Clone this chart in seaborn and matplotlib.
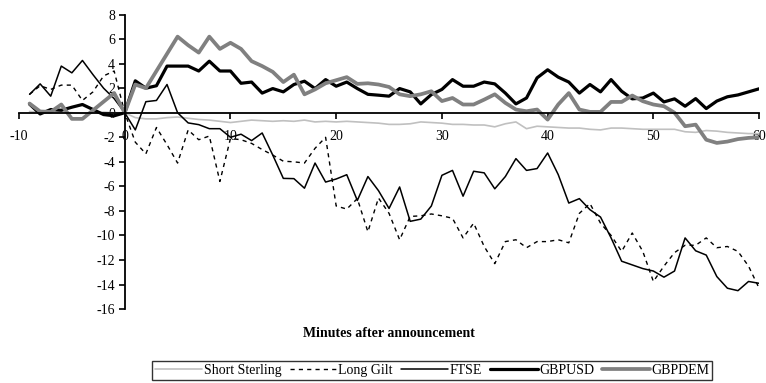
import matplotlib
matplotlib.use("Agg")
import matplotlib.pyplot as plt
import seaborn as sns
import pandas as pd

# Minutes relative to the announcement
minutes = list(range(-9, 61))

short_sterling = [
    0.1, 0.05, 0.0, 0.05, 0.0, -0.05, 0.0, 0.05, 0.0, 0.0,
    -0.4, -0.5, -0.5, -0.4, -0.35, -0.45, -0.55, -0.6, -0.7, -0.8,
    -0.7, -0.6, -0.65, -0.7, -0.65, -0.7, -0.6, -0.75, -0.7, -0.75,
    -0.7, -0.75, -0.8, -0.85, -0.95, -0.95, -0.9, -0.75, -0.8, -0.85,
    -0.95, -0.95, -1.0, -1.0, -1.15, -0.9, -0.75, -1.3, -1.1, -1.15,
    -1.2, -1.25, -1.25, -1.35, -1.4, -1.25, -1.25, -1.3, -1.35, -1.35,
    -1.35, -1.35, -1.55, -1.6, -1.45, -1.5, -1.6, -1.65, -1.7, -1.7,
]

long_gilt = [
    1.5, 2.2, 1.9, 2.25, 2.25, 1.0, 1.7, 3.0, 3.4, 0.0,
    -2.4, -3.35, -1.2, -2.6, -4.1, -1.4, -2.2, -1.9, -5.6, -2.1,
    -2.2, -2.5, -3.0, -3.45, -3.95, -4.0, -4.1, -2.9, -2.0, -7.6,
    -7.85, -7.0, -9.7, -6.95, -8.2, -10.35, -8.45, -8.4, -8.25, -8.4,
    -8.6, -10.2, -9.0, -10.9, -12.3, -10.5, -10.35, -11.0, -10.5, -10.5,
    -10.35, -10.6, -8.2, -7.4, -9.0, -10.0, -11.3, -9.8, -11.3, -13.75,
    -12.5, -11.4, -10.8, -10.8, -10.2, -11.0, -10.9, -11.3, -12.5, -14.3,
]

ftse = [
    1.5, 2.35, 1.35, 3.8, 3.25, 4.26, 3.1, 2.0, 1.15, 0.0,
    -1.4, 0.9, 1.0, 2.3, 0.0, -0.83, -0.97, -1.3, -1.3, -2.0,
    -1.75, -2.27, -1.65, -3.45, -5.35, -5.37, -6.15, -4.1, -5.65, -5.4,
    -5.05, -7.15, -5.2, -6.35, -7.8, -6.05, -8.85, -8.67, -7.6, -5.1,
    -4.7, -6.8, -4.77, -4.9, -6.2, -5.2, -3.74, -4.7, -4.55, -3.28,
    -5.04, -7.36, -7.0, -7.9, -8.5, -10.2, -12.1, -12.4, -12.7, -12.9,
    -13.4, -12.9, -10.2, -11.25, -11.6, -13.35, -14.3, -14.5, -13.75, -13.9,
]

gbpusd = [
    0.7, -0.1, 0.26, 0.2, 0.45, 0.67, 0.26, -0.15, -0.25, 0.0,
    2.6, 2.0, 2.2, 3.8, 3.8, 3.8, 3.4, 4.2, 3.4, 3.4,
    2.4, 2.5, 1.6, 1.97, 1.7, 2.3, 2.57, 1.97, 2.7, 2.16,
    2.5, 1.97, 1.5, 1.43, 1.35, 1.97, 1.7, 0.72, 1.48, 1.9,
    2.7, 2.16, 2.16, 2.5, 2.35, 1.6, 0.72, 1.2, 2.84, 3.5,
    2.9, 2.5, 1.6, 2.3, 1.7, 2.7, 1.75, 1.13, 1.2, 1.6,
    0.88, 1.13, 0.53, 1.15, 0.34, 0.95, 1.3, 1.45, 1.7, 1.95,
]

gbpdem = [
    0.75, 0.1, 0.07, 0.67, -0.5, -0.5, 0.2, 0.9, 1.6, 0.0,
    2.3, 2.0, 3.4, 4.8, 6.2, 5.5, 4.9, 6.2, 5.2, 5.7,
    5.2, 4.2, 3.8, 3.33, 2.5, 3.1, 1.5, 1.9, 2.4, 2.65,
    2.9, 2.35, 2.4, 2.3, 2.1, 1.5, 1.35, 1.5, 1.75, 0.95,
    1.2, 0.67, 0.67, 1.07, 1.5, 0.8, 0.26, 0.12, 0.26, -0.56,
    0.67, 1.6, 0.26, 0.07, 0.07, 0.88, 0.88, 1.4, 0.94, 0.67,
    0.53, 0.0, -1.1, -0.97, -2.2, -2.46, -2.35, -2.15, -2.05, -2.0,
]

series_names = ["Short Sterling", "Long Gilt", "FTSE", "GBPUSD", "GBPDEM"]
series_values = [short_sterling, long_gilt, ftse, gbpusd, gbpdem]

x_ticks = [-10, 0, 10, 20, 30, 40, 50, 60]
y_ticks = [8, 6, 4, 2, 0, -2, -4, -6, -8, -10, -12, -14, -16]

styles = {
    "Short Sterling": dict(color="#c0c0c0", linewidth=1.2, linestyle="-"),
    "Long Gilt": dict(color="black", linewidth=1.0, linestyle=(0, (3, 3))),
    "FTSE": dict(color="black", linewidth=1.1, linestyle="-"),
    "GBPUSD": dict(color="black", linewidth=2.3, linestyle="-"),
    "GBPDEM": dict(color="#808080", linewidth=2.7, linestyle="-"),
}

frames = []
for name, vals in zip(series_names, series_values):
    frames.append(pd.DataFrame({"minute": minutes, "change": vals, "series": name}))
data = pd.concat(frames, ignore_index=True)

sns.set_theme(style="white")
plt.rcParams["font.family"] = ["Liberation Serif", "DejaVu Serif"]
plt.rcParams["text.color"] = "black"
plt.rcParams["axes.labelcolor"] = "black"
plt.rcParams["xtick.color"] = "black"
plt.rcParams["ytick.color"] = "black"

fig = plt.figure(figsize=(7.66, 3.83), dpi=100)
ax = fig.add_axes([0.0248, 0.193, 0.9662, 0.769])

for name in series_names:
    sub = data[data["series"] == name]
    st = styles[name]
    sns.lineplot(data=sub, x="minute", y="change", ax=ax, label=name,
                 color=st["color"], linewidth=st["linewidth"],
                 linestyle=st["linestyle"], solid_joinstyle="round",
                 dash_joinstyle="round", sort=False)

ax.set_xlim(-10, 60)
ax.set_ylim(-16, 8)
ax.set_xticks(x_ticks)
ax.set_yticks(y_ticks)
ax.set_xticklabels([str(t) for t in x_ticks])
ax.set_yticklabels([str(t) for t in y_ticks])

# Axes cross at the origin
ax.spines["left"].set_position(("data", 0))
ax.spines["bottom"].set_position(("data", 0))
ax.spines["top"].set_visible(False)
ax.spines["right"].set_visible(False)
for side in ("left", "bottom"):
    ax.spines[side].set_linewidth(1.3)
    ax.spines[side].set_color("black")

ax.tick_params(axis="x", direction="out", length=4.5, width=1.2, pad=8,
               labelsize=10, bottom=True)
ax.tick_params(axis="y", direction="out", length=4.5, width=1.2, pad=2.5,
               labelsize=10, left=True)

ax.set_xlabel("Minutes after announcement", fontsize=10, fontweight="bold")
ax.xaxis.set_label_coords(0.5, -0.062)
ax.set_ylabel("")

handles, labels = ax.get_legend_handles_labels()
ax.get_legend().remove()
leg = fig.legend(handles, labels, loc="lower center", ncol=5,
                 bbox_to_anchor=(0.564, 0.008), frameon=True, fancybox=False,
                 edgecolor="black", fontsize=10, handlelength=3.4,
                 handletextpad=0.1, columnspacing=0.6, borderpad=0.2,
                 borderaxespad=0.0)
leg.get_frame().set_linewidth(1.0)

fig.savefig("out.png", dpi=100)
